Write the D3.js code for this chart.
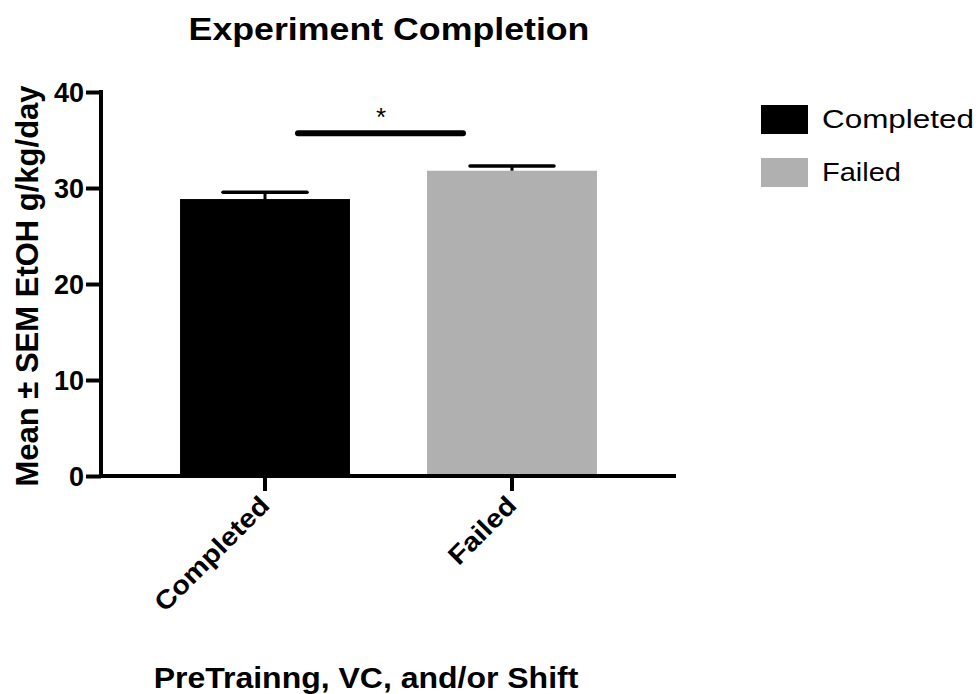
<!DOCTYPE html>
<html><head><meta charset="utf-8">
<script src="https://cdn.jsdelivr.net/npm/d3@7"></script>
<style>body{margin:0;background:#fff}svg{display:block}</style>
</head><body>
<svg id="c" width="980" height="694"></svg>
<script>
const categories = ["Completed", "Failed"];
const means = [28.85, 31.8];
const sems = [0.7, 0.5];
const colors = ["#000000", "#b0b0b0"];
const yTicks = [0, 10, 20, 30, 40];
const sigLabel = "*";

const svg = d3.select("#c");
const font = "'Liberation Sans', Arial, Helvetica, sans-serif";
const x0 = 101, x1 = 676, yTop = 92, yBot = 476;

const x = d3.scaleBand().domain(categories).range([x0, x1]).paddingInner(0.312).paddingOuter(0.32);
const y = d3.scaleLinear().domain([0, 40]).range([yBot, yTop]);

// fit a text element horizontally to a target width by stretching glyphs
function fitWidth(sel, target, tx, ty, extra) {
  const w = sel.node().getComputedTextLength();
  const s = target / w;
  sel.attr("transform", `translate(${tx},${ty}) ${extra || ""} scale(${s},1)`);
}

// bars
svg.selectAll("rect.bar").data(categories).enter().append("rect")
  .attr("x", d => x(d)).attr("width", x.bandwidth())
  .attr("y", (d, i) => y(means[i])).attr("height", (d, i) => y(0) - y(means[i]))
  .attr("fill", (d, i) => colors[i]);

// error bars (upper only)
const capW = 84;
categories.forEach((c, i) => {
  const cx = x(c) + x.bandwidth() / 2;
  svg.append("line").attr("x1", cx).attr("x2", cx).attr("y1", y(means[i])).attr("y2", y(means[i] + sems[i]))
    .attr("stroke", "#000").attr("stroke-width", 3);
  svg.append("line").attr("x1", cx - capW / 2).attr("x2", cx + capW / 2)
    .attr("y1", y(means[i] + sems[i])).attr("y2", y(means[i] + sems[i]))
    .attr("stroke", "#000").attr("stroke-width", 3.5).attr("stroke-linecap", "round");
});

// axes
const yAxis = svg.append("g").attr("transform", `translate(${x0},0)`)
  .call(d3.axisLeft(y).tickValues(yTicks).tickSize(15).tickPadding(2));
yAxis.select(".domain").attr("stroke-width", 4).attr("d", `M0,${yTop - 2}V${yBot + 2}`);
yAxis.selectAll(".tick line").attr("stroke-width", 4);
yAxis.selectAll(".tick text").attr("font-family", font).attr("font-weight", "bold").attr("font-size", 27).attr("fill", "#000")
  .attr("dy", "0.36em");

const xAxis = svg.append("g").attr("transform", `translate(0,${yBot})`)
  .call(d3.axisBottom(x).tickSize(15).tickPadding(6));
xAxis.select(".domain").attr("stroke-width", 4).attr("d", `M${x0 - 2},0H${x1}`);
xAxis.selectAll(".tick line").attr("stroke-width", 4);
const tickLens = [150, 84];
xAxis.selectAll(".tick text").attr("font-family", font).attr("font-weight", "bold").attr("font-size", 26).attr("fill", "#000")
  .attr("text-anchor", "end").attr("x", 0).attr("y", 0).attr("dy", 0)
  .each(function (d, i) { fitWidth(d3.select(this), tickLens[i], 6, 31, "rotate(-45)"); });

// significance
const ySig = y(35.7);
svg.append("line").attr("x1", x(categories[0]) + x.bandwidth() / 2 + 33).attr("x2", x(categories[1]) + x.bandwidth() / 2 - 49)
  .attr("y1", ySig).attr("y2", ySig).attr("stroke", "#000").attr("stroke-width", 6).attr("stroke-linecap", "round");
svg.append("text").attr("x", 381).attr("y", ySig - 7)
  .attr("text-anchor", "middle").attr("font-family", font).attr("font-size", 26).text(sigLabel);

// title
const title = svg.append("text").attr("text-anchor", "middle")
  .attr("font-family", font).attr("font-weight", "bold").attr("font-size", 31).text("Experiment Completion");
fitWidth(title, 401, 389, 40);

// x title
const xt = svg.append("text").attr("text-anchor", "middle")
  .attr("font-family", font).attr("font-weight", "bold").attr("font-size", 29).text("PreTrainng, VC, and/or Shift");
fitWidth(xt, 425, 366, 688);

// y title
svg.append("text").attr("transform", `translate(38,286) rotate(-90)`).attr("text-anchor", "middle")
  .attr("font-family", font).attr("font-weight", "bold").attr("font-size", 31).text("Mean ± SEM EtOH g/kg/day");

// legend
const legLens = [152, 79];
const lg = svg.append("g").attr("transform", "translate(761,105)");
categories.forEach((c, i) => {
  lg.append("rect").attr("x", 0).attr("y", i * 53).attr("width", 47).attr("height", 29).attr("fill", colors[i]);
  const t = lg.append("text").attr("font-family", font).attr("font-size", 26).attr("fill", "#000").text(c);
  fitWidth(t, legLens[i], 61, i * 53 + 23);
});
</script>
</body></html>
